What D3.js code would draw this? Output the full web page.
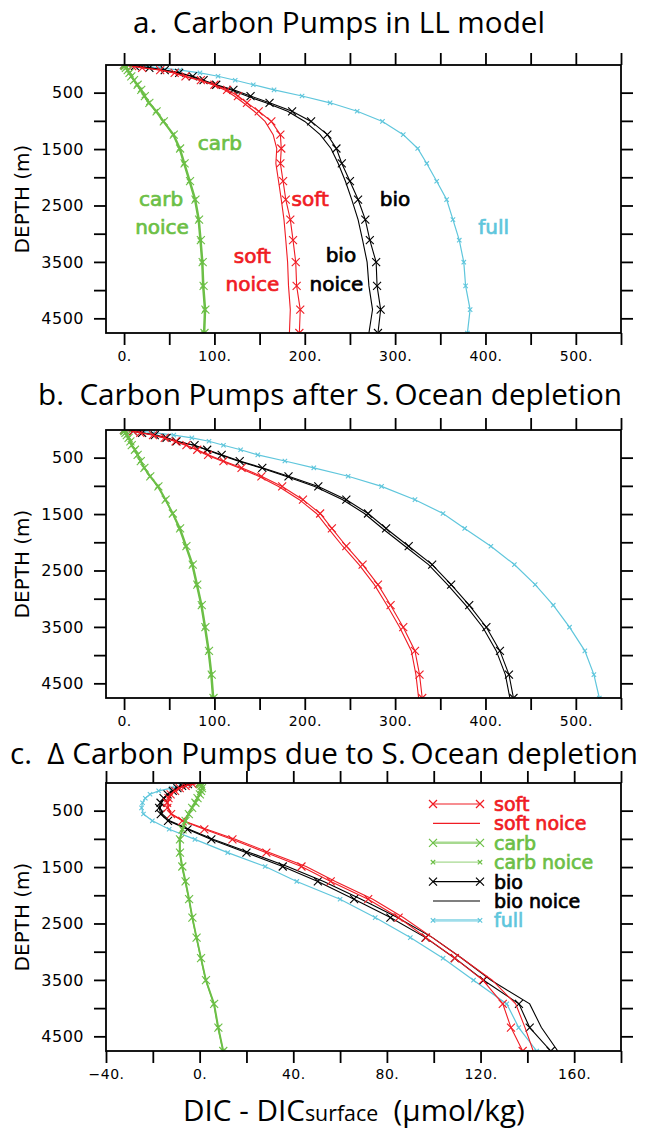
<!DOCTYPE html>
<html>
<head>
<meta charset="utf-8">
<script src="https://cdn.jsdelivr.net/npm/d3@7"></script>
<style>
  body { margin: 0; background: #fff; }
  svg { display: block; }
  .tick line { stroke: #000; stroke-width: 1.8; }
  .xlab .tick text { font-family: "DejaVu Sans", sans-serif; font-size: 14px; letter-spacing: 0.5px; fill: #000; }
  .ylab .tick text { font-family: "DejaVu Sans", sans-serif; font-size: 16px; letter-spacing: 0.5px; fill: #000; }
  .title { font-family: "Open Sans", sans-serif; font-size: 28px; fill: #000; white-space: pre; }
  .depthLabel { font-family: "DejaVu Sans", sans-serif; font-size: 20px; fill: #000; }
  .note { font-family: "DejaVu Sans", sans-serif; font-size: 20px; stroke-width: 0.7px; }
</style>
</head>
<body>
<div id="chart"></div>
<script>
const svgWidth = 645;
const svgHeight = 1138;

const margin = { left: 106, width: 515, height: 268 };
const panelTops = [65, 430, 783];

// model depth levels (m)
const depths = [10, 30, 60, 100, 150, 210, 280, 360, 450, 560, 680, 830, 1010,
  1245, 1490, 1755, 2070, 2395, 2750, 3115, 3505, 3925, 4345, 4760];

// a. LL model
const aSoft = [0, 9, 20, 40, 56, 68, 85, 100, 114, 126, 136, 149, 163, 173, 174, 173, 176, 179, 184, 187, 190, 191, 195, 194];
const aSoftNoice = [0, 9, 20, 39, 55, 66, 83, 98, 111, 122, 132, 144, 156, 165, 169, 168, 171, 174, 177, 179, 181, 182, 184, 183];
const aCarb = [0, 1, 2, 4, 6, 8, 11, 15, 19, 23, 28, 36, 44, 55, 62, 67, 73, 79, 83, 85, 87, 88, 90, 89];
const aCarbNoice = [0, 1, 2, 4, 6, 8, 11, 14, 18, 22, 27, 35, 43, 54, 61, 66, 72, 78, 82, 84, 86, 87, 89, 88];
const aBio = [0, 12, 28, 45, 61, 76, 88, 102, 121, 140, 161, 186, 207, 225, 235, 241, 250, 259, 267, 272, 279, 280, 284, 281];
const aBioNoice = [0, 12, 28, 44, 60, 74, 86, 100, 118, 136, 157, 181, 200, 217, 229, 237, 245, 252, 259, 264, 269, 271, 275, 271];
const aFull = [0, 20, 40, 62, 84, 104, 123, 143, 166, 197, 228, 258, 286, 309, 325, 335, 346, 357, 364, 371, 376, 378, 383, 380];

// b. after S. Ocean depletion
const bSoft = [0, 10, 18, 32, 45, 57, 69, 81, 93, 110, 130, 152, 175, 198, 217, 230, 246, 264, 281, 295, 309, 322, 327, 330];
const bSoftNoice = [0, 10, 18, 31, 44, 56, 68, 80, 91, 108, 127, 149, 171, 194, 213, 226, 242, 260, 277, 291, 305, 318, 323, 326];
const bCarb = [0, 0.5, 1.5, 3, 5, 7, 8.5, 12, 15, 18.5, 22.5, 29, 38, 46, 54, 62, 69, 76, 81, 86, 90, 94, 97, 99];
const bCarbNoice = [0, 0.5, 1.5, 3, 5, 7, 8.5, 12, 15, 18, 22, 28.5, 37, 45.5, 53.5, 61, 68, 75, 80, 85, 89, 93, 96, 98];
const bBio = [0, 10, 20, 34, 47, 58, 78, 92, 108, 128, 153, 182, 215, 246, 270, 290, 315, 341, 362, 382, 401, 416, 426, 431];
const bBioNoice = [0, 10, 20, 34, 47, 58, 77, 91, 106, 126, 151, 179, 211, 242, 266, 286, 311, 337, 358, 378, 397, 412, 422, 427];
const bFull = [0, 18, 35, 55, 75, 94, 110, 129, 148, 178, 210, 248, 285, 322, 353, 377, 406, 432, 455, 475, 493, 510, 520, 526];

// c. difference due to S. Ocean depletion
const cSoft = [0, -3, -6, -8.5, -10.5, -12.4, -13.3, -13.9, -13.8, -12.2, -7.4, 2, 14, 28.5, 43.5, 56, 72, 85, 96.7, 109, 121, 129.5, 133, 138];
const cSoftNoice = [0, -3, -6, -8.5, -10.5, -12, -13, -13.5, -13.3, -12, -7, 3, 15.5, 30, 45.5, 58, 74, 87, 99.5, 112, 125, 135, 139, 142.5];
const cCarb = [0, 0.3, 0.8, 1, 0.6, 0.1, -0.9, -1.8, -3.2, -4.6, -6, -7.3, -8.4, -8.4, -7.4, -6, -4.5, -3.1, -1.3, 0.6, 2.7, 6.2, 8, 10.1];
const cCarbNoice = [0, 0.3, 0.8, 1, 0.6, 0, -1, -2, -3.3, -4.8, -6.2, -7.5, -8.6, -8.6, -7.6, -6.2, -4.6, -3.2, -1.4, 0.5, 2.6, 6, 7.8, 10];
const cBio = [0, -5, -7.5, -9.5, -11.5, -13.7, -15.4, -16.7, -17.3, -16.6, -13.5, -5.2, 5, 20, 35.5, 50.5, 66, 81.5, 96.5, 109, 121.3, 136.4, 141, 150];
const cBioNoice = [0, -5, -7.5, -9.5, -11.5, -13.5, -15, -16.2, -16.8, -16, -12.8, -4.5, 6, 21.5, 37.5, 53, 69, 84.5, 99.5, 112, 124.5, 141, 146, 153];
const cFull = [0, -4, -8, -12, -17.5, -21.2, -23.2, -24.4, -24.8, -24, -20.2, -13, -2, 12, 28, 41.5, 60, 75, 90, 104, 117, 131.2, 136.3, 144];

// axis ticks
const xTicksAB = d3.range(0, 551, 50);
const xLabelsAB = [0, 100, 200, 300, 400, 500];
const xTicksC = d3.range(-40, 181, 20);
const xLabelsC = [-40, 0, 40, 80, 120, 160];
const yTicks = [500, 1000, 1500, 2000, 2500, 3000, 3500, 4000, 4500];
const yLabels = [500, 1500, 2500, 3500, 4500];

const titles = [
  "a.  Carbon Pumps in LL model",
  "b.  Carbon Pumps after S.\u2009Ocean depletion",
  "c.  \u0394 Carbon Pumps due to S.\u2009Ocean depletion"
];

// series styles
const red = "#f01c24", green = "#6cbf46", cyan = "#5fc6dc";
const seriesStyle = {
  soft: { color: red, width: 1.1, marker: 4 },
  softNoice: { color: red, width: 1.1, marker: 0 },
  carb: { color: green, width: 1.8, marker: 4 },
  carbNoice: { color: green, width: 1.4, marker: 2.2 },
  bio: { color: "#000", width: 1.1, marker: 4 },
  bioNoice: { color: "#000", width: 1.1, marker: 0 },
  full: { color: cyan, width: 1.2, marker: 2.2 }
};

const panels = [
  { xDomain: [-20, 550], ticks: xTicksAB, labels: xLabelsAB,
    series: { full: aFull, bioNoice: aBioNoice, bio: aBio, softNoice: aSoftNoice, soft: aSoft, carbNoice: aCarbNoice, carb: aCarb } },
  { xDomain: [-20, 550], ticks: xTicksAB, labels: xLabelsAB,
    series: { full: bFull, bioNoice: bBioNoice, bio: bBio, softNoice: bSoftNoice, soft: bSoft, carbNoice: bCarbNoice, carb: bCarb } },
  { xDomain: [-40, 180], ticks: xTicksC, labels: xLabelsC,
    series: { full: cFull, bioNoice: cBioNoice, bio: cBio, softNoice: cSoftNoice, soft: cSoft, carbNoice: cCarbNoice, carb: cCarb } }
];

// text labels inside panel a: [text, value, depth, color]
const panelALabels = [
  ["carb", 106, 1515, green],
  ["carb", 41, 2508, green],
  ["noice", 42, 3004, green],
  ["soft", 206, 2508, red],
  ["soft", 142, 3519, red],
  ["noice", 142, 4015, red],
  ["bio", 300, 2508, "#000"],
  ["bio", 240, 3501, "#000"],
  ["noice", 235, 4015, "#000"],
  ["full", 409, 3004, cyan]
];

const legendNames = ["soft", "soft noice", "carb", "carb noice", "bio", "bio noice", "full"];
const legendKeys = ["soft", "softNoice", "carb", "carbNoice", "bio", "bioNoice", "full"];

var svg = d3.select("#chart")
  .append("svg")
  .attr("width", svgWidth)
  .attr("height", svgHeight);

var yScale = d3.scaleLinear()
  .domain(d3.extent(depths))
  .range([0, margin.height]);

function crossPath(s) {
  return `M${-s},${-s}L${s},${s}M${-s},${s}L${s},${-s}`;
}

function tickText(d) {
  if (d < 0) return "\u2212" + Math.abs(d) + ".";
  return d + ".";
}

// titles: one font size for all, sized so title a is as wide as in the figure
var titleText = svg.selectAll(".title")
  .data(titles)
  .enter()
  .append("text")
  .attr("class", "title")
  .attr("text-anchor", "middle")
  .attr("x", (d, i) => [339, 330, 324][i])
  .attr("y", (d, i) => [33, 405, 764][i])
  .text(d => d);
var titleSize = 28 * 412 / titleText.node().getComputedTextLength();
titleText.style("font-size", titleSize + "px");

panels.forEach(function(panel, i) {
  var g = svg.append("g")
    .attr("transform", `translate(${margin.left}, ${panelTops[i]})`);

  var xScale = d3.scaleLinear()
    .domain(panel.xDomain)
    .range([0, margin.width]);

  // axes
  var bottomAxis = d3.axisBottom(xScale)
    .tickValues(panel.ticks)
    .tickSize(12)
    .tickSizeOuter(0)
    .tickPadding(6)
    .tickFormat(d => panel.labels.includes(d) ? tickText(d) : "");
  g.append("g")
    .attr("class", "xlab")
    .attr("transform", `translate(0, ${margin.height})`)
    .call(bottomAxis)
    .call(a => a.select(".domain").remove());

  g.append("g")
    .call(d3.axisTop(xScale).tickValues(panel.ticks).tickSize(12).tickFormat(""))
    .call(a => a.select(".domain").remove());

  g.append("g")
    .attr("class", "ylab")
    .call(d3.axisLeft(yScale).tickValues(yTicks).tickSize(12).tickPadding(10)
      .tickFormat(d => yLabels.includes(d) ? d : ""))
    .call(a => a.select(".domain").remove());

  g.append("g")
    .attr("transform", `translate(${margin.width}, 0)`)
    .call(d3.axisRight(yScale).tickValues(yTicks).tickSize(12).tickFormat(""))
    .call(a => a.select(".domain").remove());

  g.append("text")
    .attr("class", "depthLabel")
    .attr("transform", `translate(${22 - margin.left}, ${margin.height / 2}) rotate(-90)`)
    .attr("text-anchor", "middle")
    .attr("dy", "0.36em")
    .text("DEPTH (m)");

  // clip lines to the plot box
  g.append("clipPath")
    .attr("id", "clip" + i)
    .append("rect")
    .attr("width", margin.width)
    .attr("height", margin.height);

  var lineGen = d3.line()
    .x(d => xScale(d[0]))
    .y(d => yScale(d[1]));

  var plot = g.append("g").attr("clip-path", `url(#clip${i})`);

  Object.keys(panel.series).forEach(function(key) {
    var style = seriesStyle[key];
    var pts = panel.series[key].map((v, k) => [v, depths[k]]);
    plot.append("path")
      .datum(pts)
      .attr("fill", "none")
      .attr("stroke", style.color)
      .attr("stroke-width", style.width)
      .attr("d", lineGen);
    if (style.marker > 0) {
      plot.selectAll(null)
        .data(pts)
        .enter()
        .append("path")
        .attr("transform", d => `translate(${xScale(d[0])}, ${yScale(d[1])})`)
        .attr("d", crossPath(style.marker))
        .attr("stroke", style.color)
        .attr("stroke-width", 1.1)
        .attr("fill", "none");
    }
  });

  // frame
  g.append("rect")
    .attr("width", margin.width)
    .attr("height", margin.height)
    .attr("fill", "none")
    .attr("stroke", "#000")
    .attr("stroke-width", 1.8);

  if (i === 0) {
    g.selectAll(".note")
      .data(panelALabels)
      .enter()
      .append("text")
      .attr("class", "note")
      .attr("x", d => xScale(d[1]))
      .attr("y", d => yScale(d[2]))
      .attr("text-anchor", "middle")
      .attr("fill", d => d[3])
      .attr("stroke", d => d[3])
      .text(d => d[0]);
  }

  if (i === 2) {
    var legend = g.append("g").attr("transform", "translate(327, 21)");
    legendKeys.forEach(function(key, k) {
      var style = seriesStyle[key];
      var row = legend.append("g").attr("transform", `translate(0, ${k * 19.4})`);
      row.append("line")
        .attr("x1", 0).attr("x2", 47)
        .attr("stroke", style.color)
        .attr("stroke-opacity", key === "carb" || key === "carbNoice" || key === "full" ? 0.6 : 1)
        .attr("stroke-width", key === "carb" || key === "full" ? 2.6 : 1.2);
      if (style.marker > 0) {
        [0, 47].forEach(function(px) {
          row.append("path")
            .attr("transform", `translate(${px}, 0)`)
            .attr("d", crossPath(style.marker))
            .attr("stroke", style.color)
            .attr("stroke-width", 1.2)
            .attr("fill", "none");
        });
      }
      row.append("text")
        .attr("class", "note")
        .attr("x", 61)
        .attr("y", 7)
        .style("font-size", "19px")
        .attr("fill", style.color)
        .attr("stroke", style.color)
        .text(legendNames[k]);
    });
  }
});

// shared x label
var xTitle = svg.append("text")
  .attr("x", 183)
  .attr("y", 1121)
  .style("font-family", "'Open Sans', sans-serif")
  .style("font-size", titleSize + "px")
  .style("white-space", "pre");
xTitle.append("tspan").text("DIC - DIC");
xTitle.append("tspan").style("font-size", (titleSize * 0.72) + "px").text("surface");
xTitle.append("tspan").text("  (\u03bcmol/kg)");
</script>
</body>
</html>
